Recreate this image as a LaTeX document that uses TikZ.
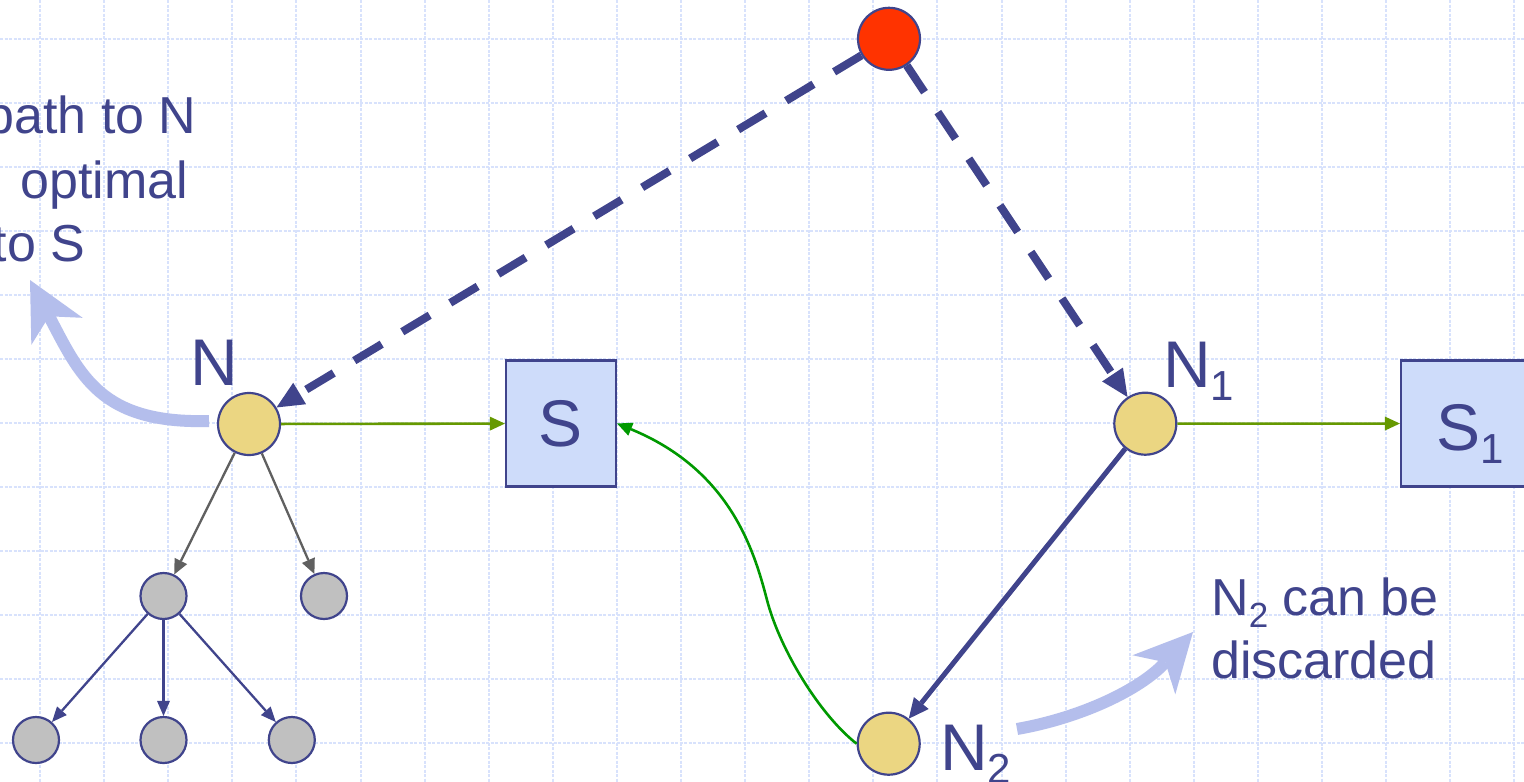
\documentclass[tikz,border=0pt]{standalone}
\usepackage{fontspec}
\setmainfont{Liberation Sans}
\usetikzlibrary{arrows.meta}
\definecolor{navy}{RGB}{64,68,140}
\definecolor{ynode}{RGB}{235,214,130}
\definecolor{gnode}{RGB}{192,192,192}
\definecolor{rnode}{RGB}{255,51,0}
\definecolor{boxfill}{RGB}{206,220,250}
\definecolor{hint}{RGB}{180,190,236}
\definecolor{lgreen}{RGB}{102,153,0}
\definecolor{dgreen}{RGB}{0,153,0}
\definecolor{edgegray}{RGB}{96,96,96}
\definecolor{gridc}{RGB}{216,226,252}
\newcommand\sublbl[1]{\raisebox{-13pt}{\fontsize{42pt}{42pt}\selectfont #1}}
\newcommand\subtxt[1]{\raisebox{-12pt}{\fontsize{35pt}{35pt}\selectfont #1}}
\begin{document}
\begin{tikzpicture}[x=1pt,y=-1pt,
  gridline/.style={gridc, line width=2pt, dash pattern=on 3pt off 1.5pt},
  bignode/.style={circle, draw=navy, line width=2.2pt, minimum size=62pt, inner sep=0pt},
  smallnode/.style={circle, draw=navy, fill=gnode, line width=2.2pt, minimum size=46pt, inner sep=0pt},
  statebox/.style={rectangle, draw=navy, fill=boxfill, line width=2.2pt, minimum width=110pt, minimum height=126pt, inner sep=0pt, text=navy, font=\fontsize{66pt}{70pt}\selectfont},
  txt/.style={text=navy, inner sep=0pt, font=\fontsize{52pt}{63pt}\selectfont},
  lbl/.style={text=navy, inner sep=0pt, font=\fontsize{66pt}{70pt}\selectfont},
  dashedge/.style={navy, line width=8pt, dash pattern=on 32pt off 24pt, -{Triangle[length=27pt,width=25pt,line width=0pt]}},
  greenedge/.style={lgreen, line width=2.6pt, -{Triangle[length=15pt,width=14pt,line width=0pt]}},
  curveedge/.style={dgreen, line width=2.6pt, -{Triangle[length=15pt,width=14pt,line width=0pt]}},
  solidedge/.style={navy, line width=5pt, -{Triangle[length=20pt,width=19pt,line width=0pt]}},
  grayedge/.style={edgegray, line width=2.3pt, -{Triangle[length=15pt,width=14pt,line width=0pt]}},
  thinedge/.style={navy, line width=2.3pt, -{Triangle[length=15pt,width=13pt,line width=0pt]}},
  hintarrow/.style={hint, line width=12pt, -{Stealth[length=58pt,width=58pt,inset=17pt,line width=0pt]}}
]
\useasboundingbox (0,0) rectangle (1524,782);
\clip (0,0) rectangle (1524,782);
\fill[white] (0,0) rectangle (1524,782);
\foreach \i in {0,...,23} \draw[gridline] ({40+64.1*\i},0) -- ({40+64.1*\i},782);
\foreach \j in {0,...,11} \draw[gridline] (0,{39.3+64*\j}) -- (1524,{39.3+64*\j});

% texts
\node[txt, anchor=base east] (t1) at (196.7,133.3) {path to N};
\node[txt, anchor=base east] (t2) at (188.5,198) {optimal};
\node[txt, anchor=base east] (t3) at (85.3,261.7) {to S};
\node[txt, anchor=base west] (t4) at (1211,615) {N\subtxt{2} can be};
\node[txt, anchor=base west] (t5) at (1211,678) {discarded};

% nodes
\node[bignode, fill=rnode] (r) at (889,38.8) {};
\node[bignode, fill=ynode] (n) at (249,424) {};
\node[bignode, fill=ynode] (n1) at (1145.3,423.7) {};
\node[bignode, fill=ynode] (n2) at (888.7,743.7) {};
\node[smallnode] (g1) at (163.5,596) {};
\node[smallnode] (g2) at (324,596) {};
\node[smallnode] (b1) at (36,740) {};
\node[smallnode] (b2) at (163.5,740) {};
\node[smallnode] (b3) at (291.8,740) {};
\node[statebox] (s) at (561,423.5) {S};
\node[statebox, minimum width=160pt] (s1) at (1481,423.5) {};

% labels
\node[lbl, anchor=base] (ln) at (214.5,385) {N};
\node[lbl, anchor=base west] (ln1) at (1163,387) {N\sublbl{1}};
\node[lbl, anchor=base west] (ln2) at (940,770) {N\sublbl{2}};
\node[lbl, anchor=base west] (ls1) at (1436,450) {S\sublbl{1}};

% connectors
\draw[dashedge] (r) -- (n);
\draw[dashedge] (r) -- (n1);
\draw[greenedge] (n) -- (s);
\draw[greenedge] (n1) -- (s1);
\draw[curveedge] (n2.west) .. controls (820,715) and (780,650) .. (767,600) .. controls (754,550) and (730,470) .. (s.east);
\draw[solidedge] (n1) -- (n2);
\draw[grayedge] (n) -- (g1);
\draw[grayedge] (n) -- (g2);
\draw[thinedge] (g1) -- (b1);
\draw[thinedge] (g1) -- (b2);
\draw[thinedge] (g1) -- (b3);

% hint arrows
\coordinate (la0) at (209,421);
\coordinate (la1) at (30,280);
\draw[hintarrow] (la0) .. controls (100,424) and (80,375) .. (la1);
\coordinate (ra0) at (1017,729);
\coordinate (ra1) at (1193,632);
\draw[hintarrow] (ra0) .. controls (1080,718) and (1140,690) .. (ra1);
\end{tikzpicture}
\end{document}
